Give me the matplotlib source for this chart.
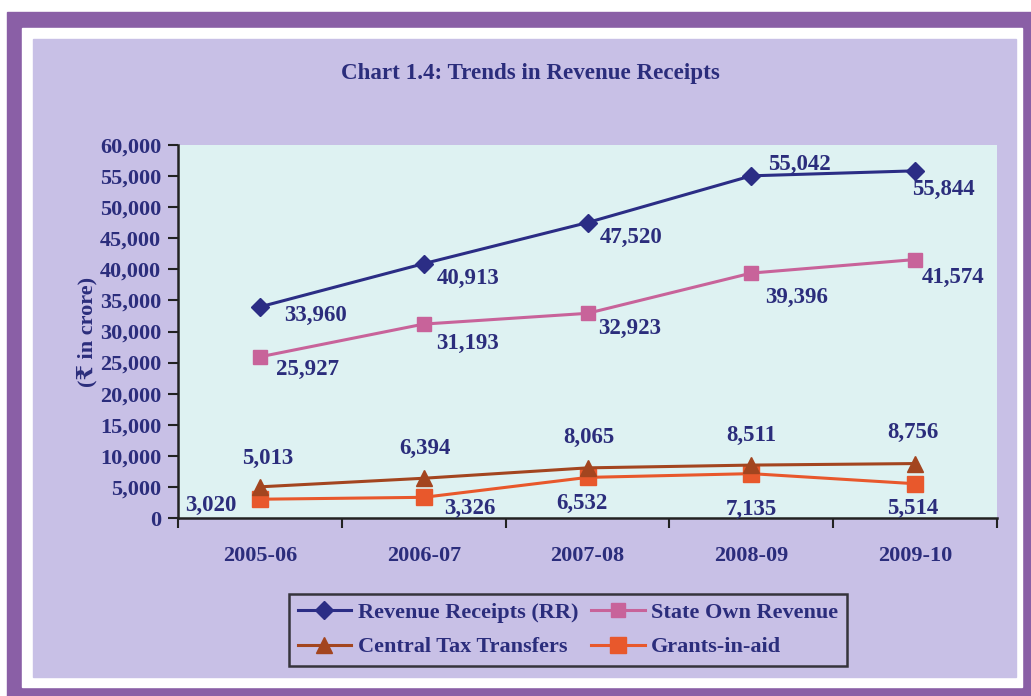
import matplotlib.pyplot as plt
from matplotlib.patches import Rectangle
from matplotlib.ticker import FuncFormatter

years = ["2005-06", "2006-07", "2007-08", "2008-09", "2009-10"]
revenue_receipts = [33960, 40913, 47520, 55042, 55844]
state_own_revenue = [25927, 31193, 32923, 39396, 41574]
central_tax = [5013, 6394, 8065, 8511, 8756]
grants = [3020, 3326, 6532, 7135, 5514]

# label offsets in pixels (dx right, dy down) from each point
rr_off = [(56, 9), (44, 15), (44, 15), (48, -11), (28, 19)]
sor_off = [(48, 13), (44, 19), (42, 15), (45, 24), (38, 18)]
ctt_off = [(8, -28), (1, -30), (1, -30), (0, -30), (-2, -31)]
gia_off = [(-49, 6), (46, 11), (-6, 26), (0, 36), (-2, 25)]

W, H = 1031, 696
navy = "#2b2d7c"
serif = ["Liberation Serif", "DejaVu Serif"]
plt.rcParams["font.family"] = serif
plt.rcParams["font.weight"] = "bold"

fig = plt.figure(figsize=(W / 100, H / 100), dpi=100)
fig.patch.set_facecolor("white")

def px_rect(x0, y0, x1, y1, color):
    # rectangle given in pixel coords (top-left origin)
    fig.patches.append(Rectangle((x0 / W, 1 - y1 / H), (x1 - x0) / W, (y1 - y0) / H,
                                 transform=fig.transFigure, color=color, zorder=-10))

px_rect(7, 12, W, H, "#8a5fa6")
px_rect(22, 28, 1022, 687, "white")
px_rect(33, 39, 1016, 677, "#c8c0e6")

ax = fig.add_axes([178 / W, 1 - 518 / H, (997 - 178) / W, (518 - 145) / H])
ax.set_facecolor("#def2f2")

x = list(range(len(years)))
l_rr, = ax.plot(x, revenue_receipts, color="#2b2d85", marker="D", markersize=9, lw=2.2, zorder=4)
l_sor, = ax.plot(x, state_own_revenue, color="#c8639a", marker="s", markersize=10, lw=2.2, zorder=4)
l_ctt, = ax.plot(x, central_tax, color="#a3451f", marker="^", markersize=11, lw=2.2, zorder=4)
l_gia, = ax.plot(x, grants, color="#e8582c", marker="s", markersize=12, lw=2.2, zorder=3)

lab = dict(color=navy, fontsize=16.5, fontweight="bold", family=serif,
           textcoords="offset pixels", ha="center", va="center")

for vals, offs in [(revenue_receipts, rr_off), (state_own_revenue, sor_off),
                   (central_tax, ctt_off), (grants, gia_off)]:
    for i, v in enumerate(vals):
        dx, dy = offs[i]
        ax.annotate(f"{v:,}", (i, v), xytext=(dx, -dy), **lab)

ax.set_xlim(-0.5, len(years) - 0.5)
ax.set_ylim(0, 60000)
ax.set_yticks(range(0, 60001, 5000))
ax.yaxis.set_major_formatter(FuncFormatter(lambda v, p: f"{int(v):,}"))
ax.set_xticks([i - 0.5 for i in range(len(years) + 1)])
ax.set_xticklabels([])
ax.set_xticks(x, minor=True)
ax.set_xticklabels(years, minor=True)
ax.tick_params(axis="x", which="minor", length=0, pad=20)
ax.tick_params(axis="x", which="major", direction="out", length=7, width=1.5, color="#222222")
ax.tick_params(axis="y", direction="out", length=7, width=1.5, color="#222222", pad=5)
for t in ax.get_yticklabels() + ax.get_xticklabels(minor=True):
    t.set_color(navy)
    t.set_fontsize(16)
    t.set_fontweight("bold")
for s in ["top", "right"]:
    ax.spines[s].set_visible(False)
for s in ["left", "bottom"]:
    ax.spines[s].set_color("#222222")
    ax.spines[s].set_linewidth(1.8)

ax.set_ylabel("(\u20b9 in crore)", color=navy, fontsize=16, fontweight="bold", labelpad=2)

fig.text(530 / W, 1 - 74 / H, "Chart 1.4: Trends in Revenue Receipts",
         ha="center", va="center", color=navy, fontsize=16.6, fontweight="bold")

leg = fig.legend([l_rr, l_ctt, l_sor, l_gia],
                 ["Revenue Receipts (RR)", "Central Tax Transfers", "State Own Revenue", "Grants-in-aid"],
                 ncol=2, loc="center", bbox_to_anchor=(568 / W, 1 - 630 / H),
                 frameon=True, fancybox=False, edgecolor="#111111", facecolor="#c8c0e6",
                 handlelength=2.4, handletextpad=0.3, columnspacing=0.6, labelspacing=0.62,
                 borderpad=0.4, prop={"family": serif, "weight": "bold", "size": 16})
leg.get_frame().set_linewidth(1.8)
for t in leg.get_texts():
    t.set_color(navy)

fig.savefig("out.png", dpi=100)
